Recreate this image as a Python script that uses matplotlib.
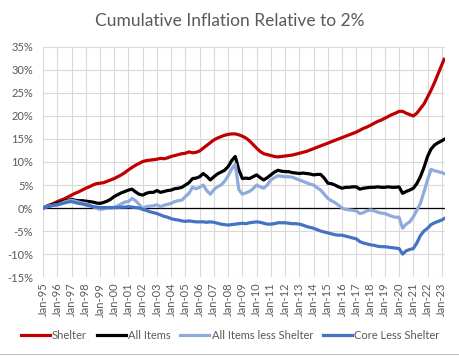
import matplotlib
matplotlib.use('Agg')
import matplotlib.pyplot as plt
import matplotlib.dates as mdates
import pandas as pd

plt.rcParams['font.family'] = ['Lato', 'DejaVu Sans']

# quarterly readings (Jan/Apr/Jul/Oct), last point ~Mar-23
dates = list(pd.date_range('1995-01-01', '2023-01-01', freq='QS')) + [pd.Timestamp('2023-03-01')]

shelter = [
    0.0, 0.4, 0.7, 1.0,   1.4, 1.7, 2.0, 2.4,   2.8, 3.2, 3.5, 3.9,   4.3, 4.6, 5.0, 5.3,
    5.4, 5.5, 5.8, 6.1,   6.4, 6.8, 7.2, 7.7,   8.3, 8.8, 9.3, 9.7,   10.1, 10.3, 10.4, 10.5,
    10.6, 10.8, 10.7, 10.9,   11.2, 11.4, 11.6, 11.8,   11.9, 12.2, 12.0, 12.1,   12.4, 13.0, 13.6, 14.2,
    14.8, 15.2, 15.5, 15.8,   16.0, 16.1, 16.1, 15.9,   15.6, 15.2, 14.6, 13.8,   13.0, 12.3, 11.8, 11.6,
    11.4, 11.2, 11.1, 11.2,   11.3, 11.4, 11.5, 11.7,   11.9, 12.1, 12.3, 12.6,   12.9, 13.2, 13.5, 13.8,
    14.1, 14.4, 14.7, 15.0,   15.3, 15.6, 15.9, 16.2,   16.5, 16.9, 17.3, 17.6,   18.0, 18.4, 18.8, 19.1,
    19.5, 19.9, 20.3, 20.6,   21.0, 21.0, 20.6, 20.3,   20.0, 20.6, 21.6, 22.6,   24.1, 25.6, 27.3, 29.2,
    31.1, 32.3]

all_items = [
    0.0, 0.3, 0.6, 0.8,   1.0, 1.3, 1.5, 1.6,   1.9, 1.7, 1.6, 1.6,   1.5, 1.4, 1.3, 1.1,
    1.0, 1.2, 1.5, 1.9,   2.5, 2.9, 3.3, 3.6,   3.9, 4.1, 3.5, 3.0,   2.8, 3.2, 3.4, 3.4,
    3.8, 3.4, 3.6, 3.8,   3.9, 4.2, 4.3, 4.5,   5.0, 5.5, 6.4, 6.5,   6.8, 7.5, 6.9, 6.1,
    6.8, 7.4, 7.8, 8.2,   9.0, 10.3, 11.2, 8.3,   6.4, 6.5, 6.4, 6.8,   7.2, 6.6, 6.1, 6.6,
    7.2, 7.8, 8.2, 8.0,   7.9, 7.9, 7.7, 7.6,   7.5, 7.6, 7.5, 7.4,   7.2, 7.3, 7.3, 6.5,
    5.4, 5.3, 5.0, 4.6,   4.3, 4.5, 4.5, 4.6,   4.6, 4.1, 4.3, 4.4,   4.5, 4.5, 4.6, 4.5,
    4.5, 4.6, 4.5, 4.5,   4.6, 3.2, 3.6, 3.9,   4.3, 5.3, 6.8, 8.8,   11.2, 12.8, 13.7, 14.2,
    14.6, 14.9]

less_shelter = [
    0.0, 0.3, 0.5, 0.6,   0.7, 1.0, 1.3, 1.5,   1.7, 1.5, 1.3, 1.1,   1.0, 0.7, 0.3, 0.0,
    -0.3, -0.2, 0.0, 0.0,   0.1, 0.5, 0.9, 1.3,   1.4, 2.1, 1.6, 0.8,   -0.1, 0.3, 0.4, 0.5,
    0.7, 0.3, 0.6, 0.8,   1.0, 1.4, 1.6, 1.7,   2.5, 3.2, 4.5, 4.2,   4.5, 5.0, 3.8, 3.0,
    4.0, 4.6, 5.0, 5.8,   7.0, 8.5, 9.5, 4.0,   3.0, 3.3, 3.6, 4.2,   5.0, 4.6, 4.3, 5.0,
    6.1, 6.6, 7.0, 6.9,   6.8, 6.8, 6.7, 6.4,   6.1, 5.8, 5.5, 5.2,   5.0, 4.4, 3.9, 3.0,
    2.1, 1.6, 1.2, 0.6,   0.0, -0.3, -0.4, -0.5,   -0.6, -1.2, -1.0, -0.6,   -0.4, -0.6, -0.9, -1.1,
    -1.2, -1.5, -1.8, -2.0,   -2.0, -4.4, -3.5, -3.0,   -1.9, -0.5, 1.0, 3.5,   6.1, 8.4, 8.1, 7.9,
    7.7, 7.5]

core_less_shelter = [
    0.0, 0.2, 0.4, 0.6,   0.7, 0.9, 1.1, 1.3,   1.4, 1.2, 1.0, 0.9,   0.7, 0.5, 0.3, 0.2,
    0.1, 0.1, 0.1, 0.1,   0.1, 0.1, 0.2, 0.2,   0.3, 0.2, 0.1, 0.0,   -0.3, -0.5, -0.8, -1.0,
    -1.2, -1.5, -1.8, -2.0,   -2.3, -2.5, -2.6, -2.8,   -2.9, -2.8, -2.9, -3.0,   -3.0, -3.0, -3.1, -3.0,
    -3.1, -3.3, -3.5, -3.6,   -3.7, -3.6, -3.5, -3.4,   -3.3, -3.4, -3.2, -3.1,   -3.0, -3.1, -3.3, -3.5,
    -3.5, -3.4, -3.2, -3.2,   -3.2, -3.3, -3.4, -3.4,   -3.5, -3.7, -4.0, -4.2,   -4.4, -4.7, -5.0, -5.2,
    -5.4, -5.6, -5.8, -5.9,   -5.9, -6.1, -6.3, -6.5,   -6.7, -7.3, -7.6, -7.8,   -8.0, -8.1, -8.3, -8.4,
    -8.4, -8.5, -8.6, -8.7,   -8.8, -10.0, -9.3, -9.0,   -8.8, -7.6, -6.0, -5.0,   -4.4, -3.6, -3.2, -2.9,
    -2.6, -2.3]

series = [
    ('Shelter', shelter, '#C00000'),
    ('All Items', all_items, '#000000'),
    ('All Items less Shelter', less_shelter, '#8FAADC'),
    ('Core Less Shelter', core_less_shelter, '#4472C4'),
]

grey = '#595959'

fig = plt.figure(figsize=(4.6, 3.58), dpi=100)
ax = fig.add_axes([0.0935, 0.226, 0.8735, 0.643])

for name, vals, col in series:
    ax.plot(dates, [v / 100 for v in vals], color=col, lw=2.3, label=name)

ax.axhline(0, color='black', lw=0.9, zorder=1.5)

ax.set_ylim(-0.15, 0.35)
ax.set_yticks([i / 100 for i in range(-15, 36, 5)])
ax.set_yticklabels([f'{i}%' for i in range(-15, 36, 5)])
ax.set_xlim(pd.Timestamp('1995-01-01'), pd.Timestamp('2023-03-20'))
ax.xaxis.set_major_locator(mdates.YearLocator(1, month=1, day=1))
ax.xaxis.set_major_formatter(mdates.DateFormatter('%b-%y'))

ax.grid(True, color='#D9D9D9', lw=0.8)
ax.set_axisbelow(True)
for s in ax.spines.values():
    s.set_visible(False)
ax.tick_params(length=0, colors=grey, labelsize=8)
ax.tick_params(axis='y', pad=7)
ax.tick_params(axis='x', rotation=90, pad=4)

fig.suptitle('Cumulative Inflation Relative to 2%', x=0.5, y=0.965, fontsize=12.5, color=grey)

fig.legend(loc='lower center', bbox_to_anchor=(0.5, 0.02), ncol=4, frameon=False,
           fontsize=8, labelcolor=grey, handlelength=2.6, handletextpad=0.2, columnspacing=0.9)

fig.add_artist(plt.Line2D([0, 1], [0.01, 0.01], color='#BFBFBF', lw=0.8))

fig.savefig('out.png', dpi=100)
